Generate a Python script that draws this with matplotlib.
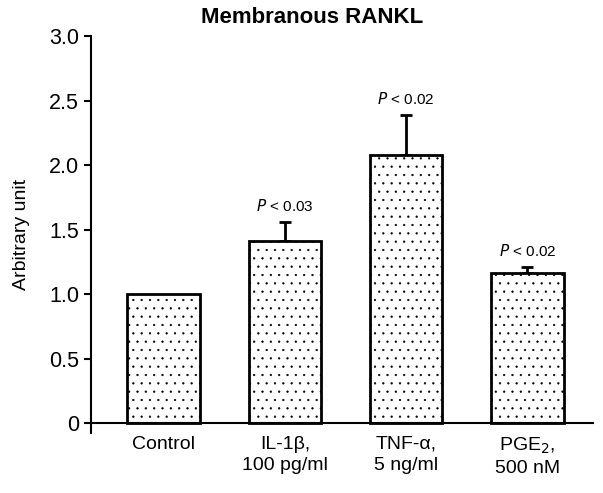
import matplotlib.pyplot as plt
import numpy as np

plt.rcParams['font.family'] = ['Liberation Sans', 'DejaVu Sans']
plt.rcParams['hatch.linewidth'] = 0.4
plt.rcParams['hatch.color'] = '#444444'

groups = ['Control', 'IL-1\u03b2,\n100 pg/ml', 'TNF-\u03b1,\n5 ng/ml', 'PGE$_2$,\n500 nM']
means = [1.0, 1.41, 2.08, 1.16]
errs = [0.0, 0.15, 0.31, 0.05]
pvals = ['', '0.03', '0.02', '0.02']

fig = plt.figure(figsize=(6.03, 4.93), dpi=100)
ax = fig.add_axes([0.151, 0.122, 0.832, 0.805])

x = np.arange(len(groups))
ax.bar(x, means, width=0.6, color='white', edgecolor='black', linewidth=2,
       hatch='..', zorder=2)
ax.errorbar(x[1:], means[1:], yerr=[np.zeros(3), errs[1:]], fmt='none',
            ecolor='black', elinewidth=2, capsize=4, capthick=2, zorder=1)
for xi, m, e, p in zip(x, means, errs, pvals):
    if p:
        ax.text(xi, m + e + 0.06, '$P$ < ' + p, ha='center', va='bottom', fontsize=11)

ax.set_xlim(-0.6, 3.54)
ax.set_ylim(-0.075, 3.0)
ax.spines['top'].set_visible(False)
ax.spines['right'].set_visible(False)
ax.spines['bottom'].set_position(('data', 0))
ax.spines['left'].set_linewidth(1.5)
ax.spines['bottom'].set_linewidth(1.5)
ax.set_yticks([0, 0.5, 1.0, 1.5, 2.0, 2.5, 3.0])
ax.set_yticklabels(['0', '0.5', '1.0', '1.5', '2.0', '2.5', '3.0'])
ax.tick_params(axis='y', labelsize=15.5, length=5, width=1.5, direction='out')
ax.set_xticks(x)
ax.set_xticklabels(groups, fontsize=14, linespacing=1.3)
ax.tick_params(axis='x', length=0, pad=9)
ax.set_ylabel('Arbitrary unit', fontsize=14, labelpad=14)
fig.text(0.517, 0.965, 'Membranous RANKL', fontsize=16, fontweight='bold',
         ha='center', va='center')

fig.savefig('out.png', dpi=100)
